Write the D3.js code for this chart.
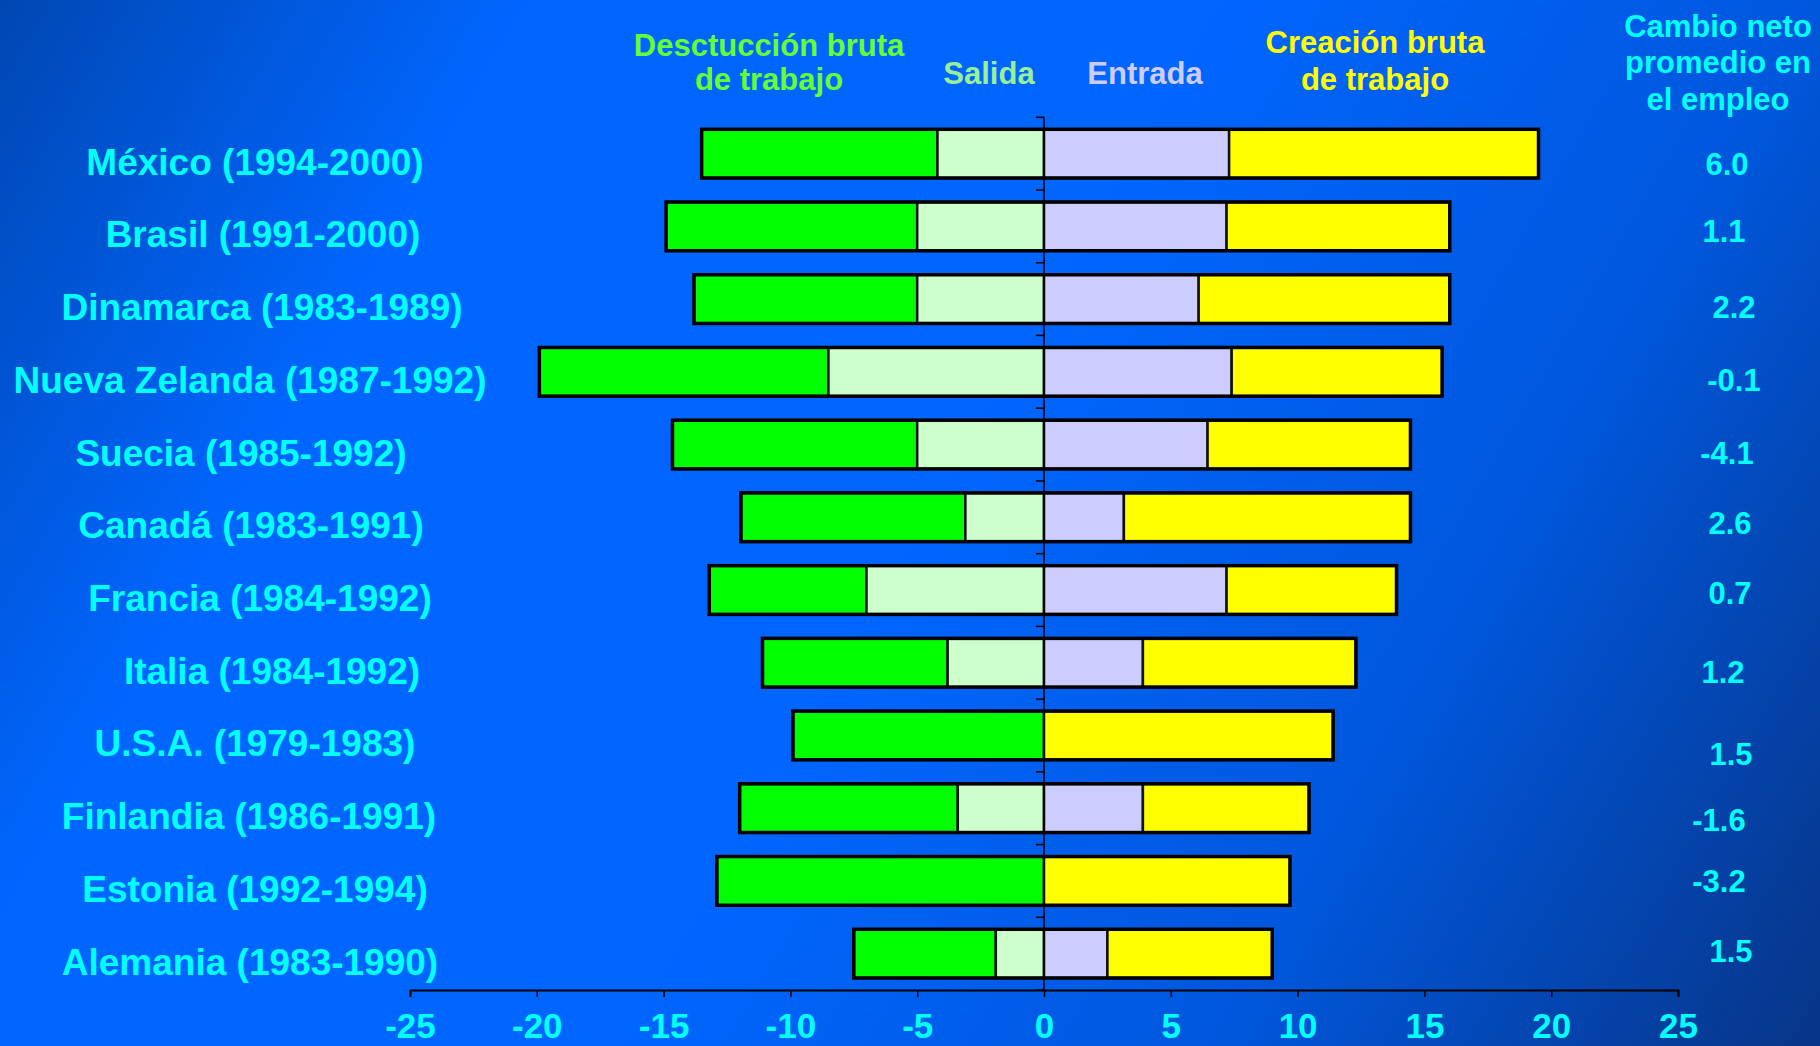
<!DOCTYPE html>
<html>
<head>
<meta charset="utf-8">
<script src="https://cdn.jsdelivr.net/npm/d3@7"></script>
<style>
  html, body { margin: 0; padding: 0; background: #0066FF; }
  svg { display: block; }
  text { font-family: "Liberation Sans", Arial, Helvetica, sans-serif; font-weight: bold; }
</style>
</head>
<body>
<svg id="chart" width="1820" height="1046"></svg>
<script>
// ---- Data ----
const countries = [
  "México (1994-2000)", "Brasil (1991-2000)", "Dinamarca (1983-1989)", "Nueva Zelanda (1987-1992)",
  "Suecia (1985-1992)", "Canadá (1983-1991)", "Francia (1984-1992)", "Italia (1984-1992)",
  "U.S.A. (1979-1983)", "Finlandia (1986-1991)", "Estonia (1992-1994)", "Alemania (1983-1990)"
];
const grossDestruction = [13.5, 14.9, 13.8, 19.9, 14.65, 11.95, 13.2, 11.1, 9.9, 12.0, 12.9, 7.5];
const exitJobs        = [4.2, 5.0, 5.0, 8.5, 5.0, 3.1, 7.0, 3.8, 0, 3.4, 0, 1.9];
const entryJobs       = [7.3, 7.2, 6.1, 7.4, 6.45, 3.15, 7.2, 3.9, 0, 3.9, 0, 2.5];
const grossCreation   = [19.5, 16.0, 16.0, 15.7, 14.45, 14.45, 13.9, 12.3, 11.4, 10.45, 9.7, 9.0];
const netChange = ["6.0", "1.1", "2.2", "-0.1", "-4.1", "2.6", "0.7", "1.2", "1.5", "-1.6", "-3.2", "1.5"];
const xTickValues = [-25, -20, -15, -10, -5, 0, 5, 10, 15, 20, 25];
const xTickLabels = ["-25", "-20", "-15", "-10", "-5", "0", "5", "10", "15", "20", "25"];

// ---- Text layout nudges (as placed in the original slide) ----
const labelNudgeX = [0, 8, 7, -5, -14, -4, 5, 17, 0, -6, 0, -5];
const netNudgeX = [0, -3, 7, 7, 0, 3, 3, -4, 4, -8, -8, 4];
const netNudgeY = [3, -2, 1, 1, 1, -1, -4, 2, 12, 5, -7, -10];

// ---- Layout ----
const svg = d3.select("#chart");
const W = 1820, H = 1046;

const defs = svg.append("defs");
const grad = defs.append("linearGradient").attr("id", "bg")
  .attr("gradientUnits", "userSpaceOnUse")
  .attr("x1", 0).attr("y1", 0).attr("x2", W).attr("y2", H);
[[0, "#0047B3"], [0.22, "#0066FF"], [0.5, "#0066FF"], [0.75, "#0057DD"], [1, "#073587"]]
  .forEach(([o, c]) => grad.append("stop").attr("offset", o).attr("stop-color", c));
svg.append("rect").attr("width", W).attr("height", H).attr("fill", "url(#bg)");

const x = d3.scaleLinear().domain([-25, 25]).range([410, 1678]);
const y = d3.scaleBand().domain(countries).range([117.3, 990]).paddingInner(0.33).paddingOuter(0.165);
const bw = y.bandwidth();
const gap = (y.step() - bw) / 2;

// ---- Segments ----
const segs = [];
countries.forEach((c, i) => {
  segs.push({c, a: -grossDestruction[i], b: -exitJobs[i], fill: "#00FF00"});
  if (exitJobs[i] > 0) segs.push({c, a: -exitJobs[i], b: 0, fill: "#CCFFCC"});
  if (entryJobs[i] > 0) segs.push({c, a: 0, b: entryJobs[i], fill: "#CCCCFF"});
  segs.push({c, a: entryJobs[i], b: grossCreation[i], fill: "#FFFF00"});
});

svg.append("g").selectAll("rect").data(segs).join("rect")
  .attr("x", d => x(d.a))
  .attr("y", d => y(d.c))
  .attr("width", d => x(d.b) - x(d.a))
  .attr("height", bw)
  .attr("fill", d => d.fill)
  .attr("stroke", "#111")
  .attr("stroke-width", 2.5);

// outer outlines
svg.append("g").selectAll("rect").data(countries).join("rect")
  .attr("x", (c, i) => x(-grossDestruction[i]))
  .attr("y", c => y(c))
  .attr("width", (c, i) => x(grossCreation[i]) - x(-grossDestruction[i]))
  .attr("height", bw)
  .attr("fill", "none")
  .attr("stroke", "#000")
  .attr("stroke-width", 3.5);

// ---- Vertical axis at zero with ticks at band boundaries ----
const vAxis = svg.append("g");
vAxis.append("line")
  .attr("x1", x(0)).attr("x2", x(0))
  .attr("y1", y.range()[0]).attr("y2", y.range()[1])
  .attr("stroke", "#000").attr("stroke-width", 1.5);
const bounds = countries.map(c => y(c) - gap).concat([y.range()[1]]);
vAxis.selectAll("line.t").data(bounds).join("line").attr("class", "t")
  .attr("x1", x(0) - 8).attr("x2", x(0))
  .attr("y1", d => d).attr("y2", d => d)
  .attr("stroke", "#000").attr("stroke-width", 1.5);

// ---- X axis ----
const xAxis = svg.append("g").attr("transform", `translate(0,${y.range()[1]})`)
  .call(d3.axisBottom(x).tickValues(xTickValues)
    .tickFormat((d, i) => xTickLabels[i]).tickSize(7).tickPadding(16));
xAxis.select(".domain").attr("stroke", "#000").attr("stroke-width", 2);
xAxis.selectAll(".tick line").attr("stroke", "#000").attr("stroke-width", 1.5);
xAxis.selectAll(".tick text")
  .attr("fill", "#00FFFF")
  .style("font-size", "35px")
  .style("font-family", "'Liberation Sans', Arial, sans-serif")
  .style("font-weight", "bold");

// ---- Category labels ----
svg.append("g").selectAll("text").data(countries).join("text")
  .attr("x", (c, i) => 255 + labelNudgeX[i])
  .attr("y", c => y(c) + bw / 2 + 21)
  .attr("text-anchor", "middle")
  .attr("fill", "#00FFFF")
  .style("font-size", "37px")
  .text(c => c);

// ---- Net change values ----
svg.append("g").selectAll("text").data(netChange).join("text")
  .attr("x", (d, i) => 1727 + netNudgeX[i])
  .attr("y", (d, i) => y(countries[i]) + bw / 2 + 18 + netNudgeY[i])
  .attr("text-anchor", "middle")
  .attr("fill", "#00FFFF")
  .style("font-size", "31px")
  .text(d => d);

// ---- Header labels ----
const headers = [
  {lines: ["Desctucción bruta", "de trabajo"], x: 769, y: [56, 90], fill: "#66FF33"},
  {lines: ["Salida"], x: 989, y: [84], fill: "#99F099"},
  {lines: ["Entrada"], x: 1145, y: [84], fill: "#CCCCFF"},
  {lines: ["Creación bruta", "de trabajo"], x: 1375, y: [53, 90], fill: "#FFFF00"},
  {lines: ["Cambio neto", "promedio en", "el empleo"], x: 1718, y: [37, 73, 110], fill: "#00FFFF"}
];
headers.forEach(h => {
  const t = svg.append("text").attr("text-anchor", "middle").attr("fill", h.fill).style("font-size", "31px");
  h.lines.forEach((l, i) => t.append("tspan").attr("x", h.x).attr("y", h.y[i]).text(l));
});
</script>
</body>
</html>
